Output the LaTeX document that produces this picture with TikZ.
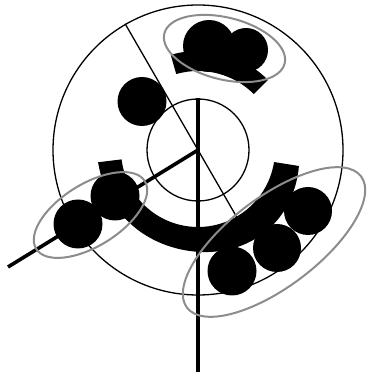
\documentclass[tikz,border=0pt]{standalone}
\usetikzlibrary{calc,shapes.geometric}
\definecolor{ink}{HTML}{000000}
\definecolor{hull}{HTML}{8C8C8C}
\tikzset{
  ring/.style={circle, draw=ink, line width=1.3pt, inner sep=0pt},
  spoke/.style={draw=ink, line width=1.3pt},
  axisline/.style={draw=ink, line width=3.6pt},
  blob/.style={circle, fill=ink, inner sep=0pt},
  band/.style={fill=ink},
  hullshape/.style={ellipse, draw=hull, line width=2pt, inner sep=0pt}
}
\begin{document}
\begin{tikzpicture}[x=1pt, y=1pt]
    \path[use as bounding box, fill=white] (0,0) rectangle (366,374);
    \coordinate (c) at (198,224);
    \node[ring, minimum size=290pt] (outer) at (c) {};
    \node[ring, minimum size=102pt] (inner) at (c) {};
    \coordinate (tip) at (8,107);
    \coordinate (foot) at (198,2);
    \coordinate (cut) at ($(c)+(-60:85)$);
    \draw[spoke] (outer.120) -- (cut);
    \draw[axisline] (inner.north) -- (foot);
    \draw[axisline] (c) -- (tip);

    \fill[band] plot[domain=187:351, samples=80, variable=\t]
      ({198+(100+6*cos(\t-312)*cos(\t-312)*cos(\t-312)*cos(\t-312))*cos(\t)},
       {224+(100+6*cos(\t-312)*cos(\t-312)*cos(\t-312)*cos(\t-312))*sin(\t)})
      -- ($(c)+(351:77)$) arc[start angle=351, end angle=187, radius=77pt] -- cycle;
    \fill[band] ($(c)+(45:99)$) arc[start angle=45, end angle=106, radius=99pt]
      -- ($(c)+(106:79)$) arc[start angle=106, end angle=45, radius=79pt] -- cycle;

    \node[blob, minimum size=49pt] (lone) at (142,272.5) {};
    \node[blob, minimum size=52pt] (top1) at (209,328) {};
    \node[blob, minimum size=44pt] (top2) at (246,324) {};
    \node[blob, minimum size=49pt] (left1) at (78,150) {};
    \node[blob, minimum size=49pt] (left2) at (115,178) {};
    \node[blob, minimum size=49pt] (right1) at (232,103) {};
    \node[blob, minimum size=48pt] (right2) at (277,126) {};
    \node[blob, minimum size=48pt] (right3) at (308,163) {};

    \node[hullshape, minimum width=124pt, minimum height=62pt, rotate=-14] (topgroup) at (224.5,325.5) {};
    \node[hullshape, minimum width=128pt, minimum height=62pt, rotate=32] (leftgroup) at (90.5,159) {};
    \node[hullshape, minimum width=218pt, minimum height=90pt, rotate=37] (rightgroup) at (274,132) {};
\end{tikzpicture}
\end{document}
